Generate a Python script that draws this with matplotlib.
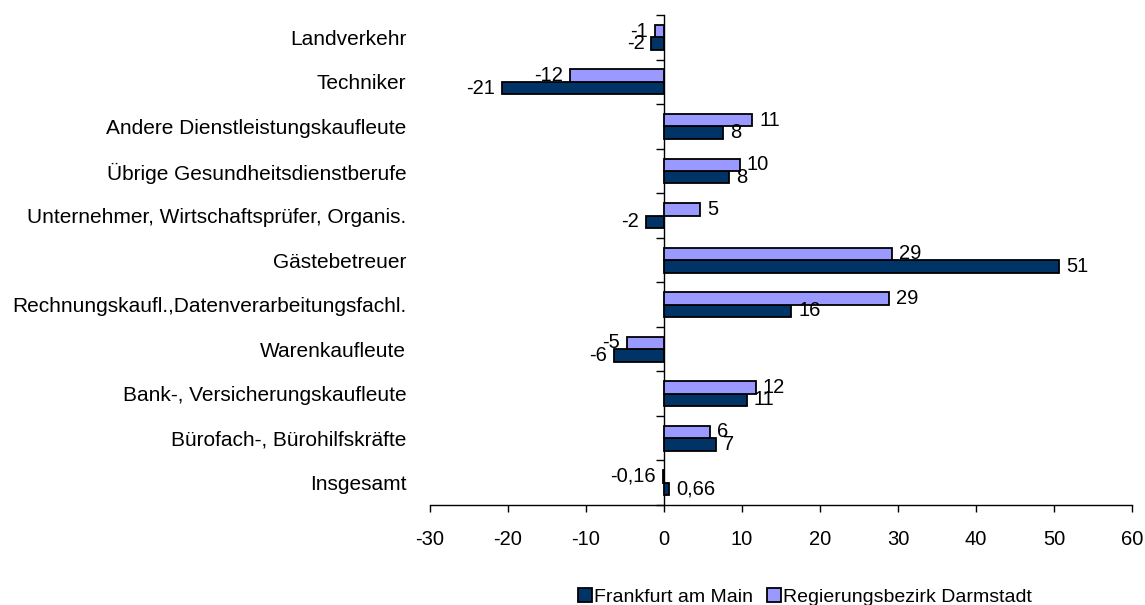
import matplotlib.pyplot as plt
import numpy as np

plt.rcParams['font.family'] = ['Liberation Sans', 'DejaVu Sans']
plt.rcParams['axes.unicode_minus'] = False

# Kategorien von unten nach oben
kategorien = ['Insgesamt', 'Bürofach-, Bürohilfskräfte', 'Bank-, Versicherungskaufleute',
              'Warenkaufleute', 'Rechnungskaufl.,Datenverarbeitungsfachl.', 'Gästebetreuer',
              'Unternehmer, Wirtschaftsprüfer, Organis.', 'Übrige Gesundheitsdienstberufe',
              'Andere Dienstleistungskaufleute', 'Techniker', 'Landverkehr']
frankfurt = [0.66, 6.7, 10.6, -6.4, 16.3, 50.7, -2.3, 8.4, 7.6, -20.8, -1.6]
darmstadt = [-0.16, 5.9, 11.8, -4.8, 28.9, 29.3, 4.6, 9.7, 11.3, -12.0, -1.2]
labels_f = ['0,66', '7', '11', '-6', '16', '51', '-2', '8', '8', '-21', '-2']
labels_d = ['-0,16', '6', '12', '-5', '29', '29', '5', '10', '11', '-12', '-1']

c_dark = '#003366'
c_light = '#9999FF'
fs = 14.5

fig = plt.figure(figsize=(11.45, 6.05), dpi=100)
ax = fig.add_axes([0.3755, 0.1653, 0.6131, 0.8097])

y = np.arange(len(kategorien))
h = 0.28
bf = ax.barh(y - h / 2, frankfurt, height=h, color=c_dark, edgecolor='black', linewidth=1.3,
             label='Frankfurt am Main')
bd = ax.barh(y + h / 2, darmstadt, height=h, color=c_light, edgecolor='black', linewidth=1.3,
             label='Regierungsbezirk Darmstadt')

for bars, labs in ((bf, labels_f), (bd, labels_d)):
    for b, lab in zip(bars, labs):
        w = b.get_width()
        yc = b.get_y() + b.get_height() / 2
        if w >= 0:
            ax.annotate(lab, (w, yc), xytext=(5, 0), textcoords='offset points',
                        ha='left', va='center', fontsize=fs)
        else:
            ax.annotate(lab, (w, yc), xytext=(-5, 0), textcoords='offset points',
                        ha='right', va='center', fontsize=fs)

ax.set_xlim(-30, 60)
ax.set_ylim(-0.5, len(kategorien) - 0.5)
ax.set_xticks(np.arange(-30, 61, 10))
ax.tick_params(axis='x', length=5, width=1, pad=13, labelsize=fs)
ax.set_yticks(y)
ax.set_yticklabels(kategorien, fontsize=15)
ax.tick_params(axis='y', length=0, pad=17)

for s in ('top', 'right', 'left'):
    ax.spines[s].set_visible(False)
ax.spines['bottom'].set_linewidth(1)

# Kategorienachse bei x = 0
sec = ax.secondary_yaxis(30 / 90)
sec.set_yticks(np.arange(-0.5, len(kategorien), 1.0))
sec.set_yticklabels([])
sec.tick_params(length=6, width=1)
sec.spines['left'].set_linewidth(1)

fig.legend(handles=[bf, bd], loc='lower center', bbox_to_anchor=(0.703, -0.03), ncol=2,
           frameon=False, fontsize=14, handlelength=0.75, handleheight=0.75,
           handletextpad=0.1, columnspacing=0.7)

fig.savefig('out.png', dpi=100)
